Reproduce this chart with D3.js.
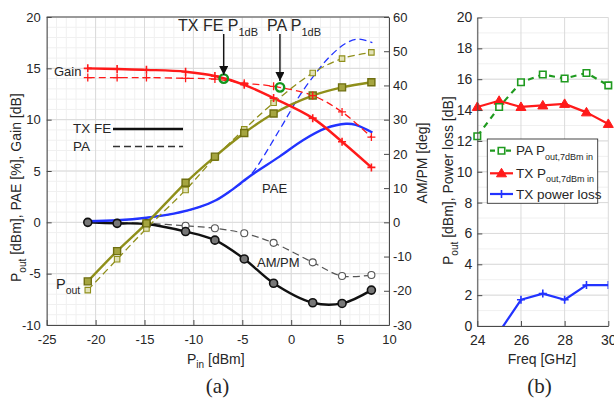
<!DOCTYPE html>
<html>
<head>
<meta charset="utf-8">
<script src="https://cdn.jsdelivr.net/npm/d3@7"></script>
<style>
body	{ margin: 0; background: #fff; }
text	{ font-family: "Liberation Sans", Arial, Helvetica, sans-serif; fill: #262626; }
</style>
</head>
<body>
<div id="plot"></div>
<script>

///////////////////////////////////////////////////////////////////////
// (a) power sweep

const pin = [ -20.8, -17.8, -14.8, -10.8, -7.8, -4.8, -1.8, 2.2, 5.2, 8.2 ];

const tx_pout = [ -5.75, -2.8, -0.1, 3.85, 6.4, 8.7, 10.6, 12.35, 13.15, 13.65 ];
const pa_pout = [ -6.6, -3.6, -0.6, 3.15, 6.3, 9.05, 11.65, 14.55, 15.95, 16.55 ];

const tx_gain = [ 15.0, 14.93, 14.85, 14.67, 14.25, 13.4, 12.1, 10.15, 7.85, 5.35 ];
const pa_gain = [ 14.1, 14.1, 14.1, 14.03, 13.95, 13.55, 13.25, 12.35, 10.75, 8.3 ];

const tx_ampm = [ 0, -0.3, -0.5, -2.7, -5.2, -10.7, -17.8, -23.5, -23.7, -19.8 ];
const pa_ampm = [ 0, -0.1, -0.3, -1.0, -1.75, -3.2, -6.0, -11.7, -15.7, -15.4 ];

const tx_pae_pin = [ -20.8, -17.8, -14.8, -12, -9.35, -7.7, -6.3, -4.3, -1.2, 1.2, 3.5, 5.6, 6.6, 8.3 ];
const tx_pae = [ 0.1, 0.2, 0.45, 0.85, 1.5, 2.15, 3.0, 4.45, 6.4, 8.0, 9.15, 9.6, 9.5, 8.75 ];

const pa_pae_pin = [ -20.8, -17.8, -14.8, -12, -9.35, -7.7, -6.3, -4.3, -1.2, 0.8, 2.5, 3.9, 5.6, 6.9, 8.3 ];
const pa_pae = [ 0.1, 0.2, 0.45, 0.85, 1.5, 2.15, 3.0, 4.45, 9.0, 12.25, 14.5, 16.1, 17.45, 17.85, 17.5 ];

const p1db_pin = [ -6.9, -1.15 ];
const p1db_gain = [ 14.0, 13.15 ];

///////////////////////////////////////////////////////////////////////
// (b) frequency sweep

const freq = [ 24, 25, 26, 27, 28, 29, 30 ];
const pa_pout_7dbm = [ 12.3, 14.2, 15.8, 16.3, 16.05, 16.4, 15.6 ];
const tx_pout_7dbm = [ 14.2, 14.6, 14.2, 14.3, 14.4, 13.85, 13.1 ];

const loss_freq = [ 25, 26, 27, 28, 29, 30 ];
const tx_loss = [ -0.4, 1.7, 2.1, 1.7, 2.65, 2.65 ];

///////////////////////////////////////////////////////////////////////

const RED = "#ff1a1a";
const BLUE = "#2233ff";
const OLIVE = "#8f8f1a";
const GREEN = "#1f9a1f";
const AXIS = "#4a4a4a";

let svg = d3.select( "#plot" )
	.append( "svg" )
		.attr( "width", 614 )
		.attr( "height", 399 )
		.style( "display", "block" );

svg.append( "rect" )
	.attr( "width", 614 )
	.attr( "height", 399 )
	.attr( "fill", "#fff" );

function zip( xs, ys )	{
	return xs.map( ( x, i ) => [ x, ys[ i ] ] );
}

function draw_grid( g, xs, ys, x_vals, y_vals, color )	{

	let [ x0, x1 ] = xs.range();
	let [ y0, y1 ] = ys.range();

	g.append( "g" )
		.selectAll( "line" )
		.data( x_vals )
		.join( "line" )
			.attr( "x1", d => xs( d ) )
			.attr( "x2", d => xs( d ) )
			.attr( "y1", y0 )
			.attr( "y2", y1 )
			.attr( "stroke", color )
			.attr( "stroke-width", 1 );

	g.append( "g" )
		.selectAll( "line" )
		.data( y_vals )
		.join( "line" )
			.attr( "x1", x0 )
			.attr( "x2", x1 )
			.attr( "y1", d => ys( d ) )
			.attr( "y2", d => ys( d ) )
			.attr( "stroke", color )
			.attr( "stroke-width", 1 );
}

function draw_line( g, pts, xs, ys, color, width, dash, curve )	{

	let line = d3.line()
		.x( d => xs( d[ 0 ] ) )
		.y( d => ys( d[ 1 ] ) )
		.curve( curve || d3.curveLinear );

	g.append( "path" )
		.datum( pts )
		.attr( "d", line )
		.attr( "fill", "none" )
		.attr( "stroke", color )
		.attr( "stroke-width", width )
		.attr( "stroke-dasharray", dash || null )
		.attr( "stroke-linejoin", "round" );
}

function draw_markers( g, pts, xs, ys, kind, color, fill, size, sw )	{

	let sel = g.append( "g" )
		.selectAll( "path" )
		.data( pts )
		.join( "path" )
			.attr( "transform", d => "translate(" + xs( d[ 0 ] ) + "," + ys( d[ 1 ] ) + ")" )
			.attr( "stroke", color )
			.attr( "stroke-width", sw )
			.attr( "fill", fill );

	let h = size / 2;
	if( kind == "plus" )	{
		sel.attr( "d", "M" + ( -h ) + ",0H" + h + "M0," + ( -h ) + "V" + h );
	}
	else
	if( kind == "square" )	{
		sel.attr( "d", "M" + ( -h ) + "," + ( -h ) + "H" + h + "V" + h + "H" + ( -h ) + "Z" );
	}
	else
	if( kind == "circle" )	{
		sel.attr( "d", d3.symbol( d3.symbolCircle, Math.PI * h * h ) );
	}
	else
	if( kind == "triangle" )	{
		sel.attr( "d", "M0," + ( -h ) + "L" + h + "," + ( h * 0.7 ) + "L" + ( -h ) + "," + ( h * 0.7 ) + "Z" );
	}
}

function style_axis( a, fs )	{

	a.select( ".domain" ).attr( "stroke", AXIS );
	a.selectAll( ".tick line" ).attr( "stroke", AXIS );
	a.selectAll( ".tick text" )
		.attr( "fill", "#333" )
		.style( "font-size", fs + "px" );
}

// text with one subscript part, optional tail after it
function sub_text( g, x, y, main, sub, tail, fs, sfs, anchor, rotate )	{

	let t = g.append( "text" )
		.attr( "x", x )
		.attr( "y", y )
		.attr( "text-anchor", anchor || "start" )
		.style( "font-size", fs + "px" );
	if( rotate )
		t.attr( "transform", "rotate(" + rotate + "," + x + "," + y + ")" );

	t.append( "tspan" ).text( main );
	t.append( "tspan" )
		.attr( "dy", fs * 0.32 )
		.style( "font-size", sfs + "px" )
		.text( sub );
	if( tail )	{
		t.append( "tspan" )
			.attr( "dy", -fs * 0.32 )
			.text( tail );
	}
	return t;
}

///////////////////////////////////////////////////////////////////////
// chart (a)

function draw_chart_a()	{

	let xs = d3.scaleLinear( [ -25, 10 ], [ 46.7, 389 ] );
	let ys = d3.scaleLinear( [ -10, 20 ], [ 325, 17 ] );
	let ys2 = d3.scaleLinear( [ -30, 60 ], [ 325, 17 ] );

	let g = svg.append( "g" );

	draw_grid( g, xs, ys, d3.range( -25, 11, 1 ), d3.range( -10, 21, 1 ), "#f0f0f0" );
	draw_grid( g, xs, ys, d3.range( -25, 11, 5 ), d3.range( -10, 21, 5 ), "#dadada" );

	let dash = "7,4";
	let smooth = d3.curveCatmullRom.alpha( 0.5 );

	// AM/PM on right axis
	draw_line( g, zip( pin, pa_ampm ), xs, ys2, "#555", 1.2, dash, smooth );
	draw_line( g, zip( pin, tx_ampm ), xs, ys2, "#111", 2.4, null, smooth );

	// PAE
	draw_line( g, zip( pa_pae_pin, pa_pae ), xs, ys, BLUE, 1.3, dash, smooth );
	draw_line( g, zip( tx_pae_pin, tx_pae ), xs, ys, BLUE, 2.4, null, smooth );

	// Pout
	draw_line( g, zip( pin, pa_pout ), xs, ys, OLIVE, 1.3, dash, smooth );
	draw_line( g, zip( pin, tx_pout ), xs, ys, OLIVE, 2.4, null, smooth );

	// Gain
	draw_line( g, zip( pin, pa_gain ), xs, ys, RED, 1.3, dash, smooth );
	draw_line( g, zip( pin, tx_gain ), xs, ys, RED, 2.4, null, smooth );

	draw_markers( g, zip( pin, pa_ampm ), xs, ys2, "circle", "#555", "#fff", 7, 1.1 );
	draw_markers( g, zip( pin, tx_ampm ), xs, ys2, "circle", "#111", "#777", 8, 1.6 );
	draw_markers( g, zip( pin, pa_pout ), xs, ys, "square", OLIVE, "#e2e2b8", 5.5, 1.1 );
	draw_markers( g, zip( pin, tx_pout ), xs, ys, "square", "#6f6f10", "#a5a540", 7, 1.4 );
	draw_markers( g, zip( pin, pa_gain ), xs, ys, "plus", RED, "none", 8, 1.3 );
	draw_markers( g, zip( pin, tx_gain ), xs, ys, "plus", RED, "none", 8, 1.6 );

	// P1dB points
	draw_markers( g, zip( p1db_pin, p1db_gain ), xs, ys, "circle", "#14961e", "none", 8.5, 2.4 );

	// arrows + labels
	let defs = svg.append( "defs" );
	defs.append( "marker" )
		.attr( "id", "arrow" )
		.attr( "viewBox", "0 0 10 10" )
		.attr( "refX", 10 )
		.attr( "refY", 5 )
		.attr( "markerWidth", 9 )
		.attr( "markerHeight", 9 )
		.attr( "markerUnits", "userSpaceOnUse" )
		.attr( "orient", "auto" )
		.append( "path" )
			.attr( "d", "M0,0L10,5L0,10Z" )
			.attr( "fill", "#111" );

	let tips = [ [ p1db_pin[ 0 ], 75 ], [ p1db_pin[ 1 ], 81 ] ];
	for( let i=0; i< tips.length; i++ )	{
		g.append( "line" )
			.attr( "x1", xs( tips[ i ][ 0 ] ) )
			.attr( "x2", xs( tips[ i ][ 0 ] ) )
			.attr( "y1", 34 )
			.attr( "y2", tips[ i ][ 1 ] )
			.attr( "stroke", "#111" )
			.attr( "stroke-width", 1.4 )
			.attr( "marker-end", "url(#arrow)" );
	}

	sub_text( g, 178, 31, "TX FE P", "1dB", null, 16, 11 );
	sub_text( g, 267, 31, "PA P", "1dB", null, 16, 11 );

	g.append( "text" ).attr( "x", 54 ).attr( "y", 75.5 ).style( "font-size", "13px" ).text( "Gain" );
	sub_text( g, 56, 289, "P", "out", null, 14.5, 10.5 );
	g.append( "text" ).attr( "x", 262 ).attr( "y", 193 ).style( "font-size", "13px" ).text( "PAE" );
	g.append( "text" ).attr( "x", 257 ).attr( "y", 267 ).style( "font-size", "13px" ).text( "AM/PM" );

	// legend
	g.append( "text" ).attr( "x", 73 ).attr( "y", 133 ).style( "font-size", "13.5px" ).text( "TX FE" );
	g.append( "text" ).attr( "x", 73 ).attr( "y", 151 ).style( "font-size", "13.5px" ).text( "PA" );
	g.append( "line" )
		.attr( "x1", 113 ).attr( "x2", 183 ).attr( "y1", 129 ).attr( "y2", 129 )
		.attr( "stroke", "#111" ).attr( "stroke-width", 2.4 );
	g.append( "line" )
		.attr( "x1", 113 ).attr( "x2", 183 ).attr( "y1", 146.5 ).attr( "y2", 146.5 )
		.attr( "stroke", "#333" ).attr( "stroke-width", 1.3 ).attr( "stroke-dasharray", dash );

	// axes
	let ax = g.append( "g" )
		.attr( "transform", "translate(0,325)" )
		.call( d3.axisBottom( xs ).tickValues( d3.range( -25, 11, 5 ) ).tickFormat( d => String( d ) )
			.tickSizeInner( -5 ).tickSizeOuter( 0 ).tickPadding( 10 ) );
	style_axis( ax, 13 );

	let ay = g.append( "g" )
		.attr( "transform", "translate(46.7,0)" )
		.call( d3.axisLeft( ys ).tickValues( d3.range( -10, 21, 5 ) ).tickFormat( d => String( d ) )
			.tickSizeInner( -5 ).tickSizeOuter( 0 ).tickPadding( 6 ) );
	style_axis( ay, 13 );

	let ay2 = g.append( "g" )
		.attr( "transform", "translate(389,0)" )
		.call( d3.axisRight( ys2 ).tickValues( d3.range( -30, 61, 10 ) ).tickFormat( d => String( d ) )
			.tickSizeInner( -5 ).tickSizeOuter( 0 ).tickPadding( 4 ) );
	style_axis( ay2, 13 );

	g.append( "line" )
		.attr( "x1", 46.7 ).attr( "x2", 389 ).attr( "y1", 17 ).attr( "y2", 17 )
		.attr( "stroke", AXIS );

	// axis titles
	let ylab = g.append( "text" )
		.attr( "transform", "translate(21,282) rotate(-90)" )
		.style( "font-size", "14px" );
	ylab.append( "tspan" ).text( "P" );
	ylab.append( "tspan" ).attr( "dy", 4.5 ).style( "font-size", "10px" ).text( "out" );
	ylab.append( "tspan" ).attr( "dy", -4.5 ).text( " [dBm], PAE [%], Gain [dB]" );

	g.append( "text" )
		.attr( "transform", "translate(427,163) rotate(-90)" )
		.attr( "text-anchor", "middle" )
		.style( "font-size", "14px" )
		.text( "AM/PM [deg]" );

	sub_text( g, 187, 364, "P", "in", " [dBm]", 14, 10 );

	g.append( "text" )
		.attr( "x", 217.5 ).attr( "y", 393 )
		.attr( "text-anchor", "middle" )
		.style( "font-family", "'Liberation Serif', 'Times New Roman', serif" )
		.style( "font-size", "21px" )
		.text( "(a)" );
}

///////////////////////////////////////////////////////////////////////
// chart (b)

function draw_chart_b()	{

	let xs = d3.scaleLinear( [ 24, 30 ], [ 477.3, 608.3 ] );
	let ys = d3.scaleLinear( [ 0, 20 ], [ 326, 17.5 ] );

	let g = svg.append( "g" );

	draw_grid( g, xs, ys, [], d3.range( 0, 21, 1 ), "#f0f0f0" );
	draw_grid( g, xs, ys, d3.range( 24, 31, 2 ), d3.range( 0, 21, 2 ), "#dadada" );

	g.append( "clipPath" )
		.attr( "id", "clip_b" )
		.append( "rect" )
			.attr( "x", 477.3 ).attr( "y", 17.5 )
			.attr( "width", 131 ).attr( "height", 308.5 );

	let gc = g.append( "g" ).attr( "clip-path", "url(#clip_b)" );

	draw_line( gc, zip( loss_freq, tx_loss ), xs, ys, BLUE, 2.2 );
	draw_markers( gc, zip( loss_freq, tx_loss ), xs, ys, "plus", BLUE, "none", 8, 1.6 );

	draw_line( gc, zip( freq, tx_pout_7dbm ), xs, ys, RED, 2.2 );
	draw_markers( g, zip( freq, tx_pout_7dbm ), xs, ys, "triangle", RED, RED, 10, 1 );

	draw_line( gc, zip( freq, pa_pout_7dbm ), xs, ys, GREEN, 2.2, "6,5" );
	draw_markers( g, zip( freq, pa_pout_7dbm ), xs, ys, "square", GREEN, "#fff", 6.5, 1.6 );

	// axes
	let ax = g.append( "g" )
		.attr( "transform", "translate(0,326)" )
		.call( d3.axisBottom( xs ).tickValues( d3.range( 24, 31, 2 ) ).tickFormat( d => String( d ) )
			.tickSizeInner( -5 ).tickSizeOuter( 0 ).tickPadding( 9 ) );
	style_axis( ax, 14 );

	let ay = g.append( "g" )
		.attr( "transform", "translate(477.3,0)" )
		.call( d3.axisLeft( ys ).tickValues( d3.range( 0, 21, 2 ) ).tickFormat( d => String( d ) )
			.tickSizeInner( -5 ).tickSizeOuter( 0 ).tickPadding( 5 ) );
	style_axis( ay, 14 );

	// legend
	g.append( "rect" )
		.attr( "x", 487.3 ).attr( "y", 139 )
		.attr( "width", 110.4 ).attr( "height", 64.3 )
		.attr( "fill", "#fff" )
		.attr( "stroke", "#333" )
		.attr( "stroke-width", 0.9 );

	let rows = [
		{ y: 150.7, color: GREEN, dash: "6,5", kind: "square", fill: "#fff", size: 6.5, main: "PA P", sub: "out,7dBm in" },
		{ y: 173.3, color: RED, dash: null, kind: "triangle", fill: RED, size: 10, main: "TX P", sub: "out,7dBm in" },
		{ y: 194, color: BLUE, dash: null, kind: "plus", fill: "none", size: 8, main: "TX power loss", sub: "" }
	];
	let lx = d3.scaleLinear( [ 0, 1 ], [ 490, 513 ] );
	let ly = d3.scaleLinear( [ 0, 1 ], [ 0, 1 ] );
	for( let i=0; i< rows.length; i++ )	{
		let r = rows[ i ];
		draw_line( g, [ [ 0, r.y ], [ 1, r.y ] ], lx, ly, r.color, 2.2, r.dash ? "5,3" : null );
		draw_markers( g, [ [ 0.5, r.y ] ], lx, ly, r.kind, r.color, r.fill, r.size, r.kind == "triangle" ? 1 : 1.6 );
		sub_text( g, 516, r.y + 4.5, r.main, r.sub, null, 13.5, 9 );
	}

	// axis titles
	let ylab = g.append( "text" )
		.attr( "transform", "translate(453,265) rotate(-90)" )
		.style( "font-size", "14px" );
	ylab.append( "tspan" ).text( "P" );
	ylab.append( "tspan" ).attr( "dy", 4.5 ).style( "font-size", "10px" ).text( "out" );
	ylab.append( "tspan" ).attr( "dy", -4.5 ).text( " [dBm], Power loss [dB]" );

	g.append( "text" )
		.attr( "x", 542 ).attr( "y", 364 )
		.attr( "text-anchor", "middle" )
		.style( "font-size", "14px" )
		.text( "Freq [GHz]" );

	g.append( "text" )
		.attr( "x", 539.5 ).attr( "y", 393 )
		.attr( "text-anchor", "middle" )
		.style( "font-family", "'Liberation Serif', 'Times New Roman', serif" )
		.style( "font-size", "21px" )
		.text( "(b)" );
}

draw_chart_a();
draw_chart_b();

</script>
</body>
</html>
